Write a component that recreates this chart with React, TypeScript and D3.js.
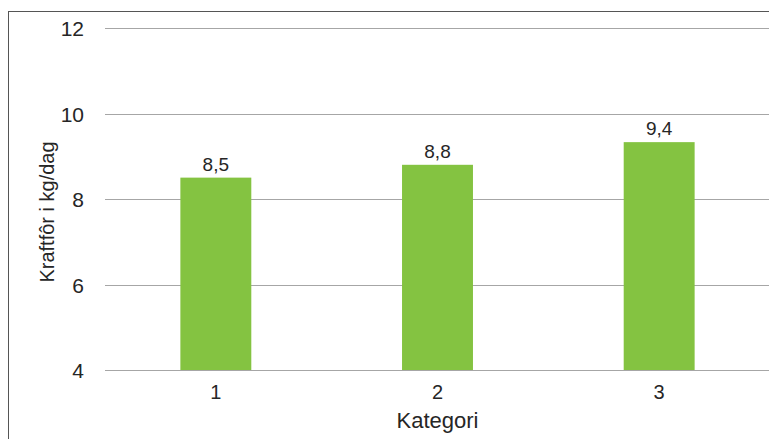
import React from "react";
import * as d3 from "d3";

const categories = ["1", "2", "3"];
const values = [8.5, 8.8, 9.33];
const valueLabels = ["8,5", "8,8", "9,4"];
const yTicks = [4, 6, 8, 10, 12];
const yTitle = "Kraftfôr i kg/dag";
const xTitle = "Kategori";

export default function App() {
  const left = 105;
  const right = 770;
  const top = 28;
  const bottom = 370;

  const x = d3.scaleBand<string>().domain(categories).range([left, right]).padding(0);
  const y = d3.scaleLinear().domain([4, 12]).range([bottom, top]);
  const barW = x.bandwidth() * 0.32;
  const font = "'Liberation Sans', Arial, Helvetica, sans-serif";
  const textFill = "#262626";

  return (
    <svg width={769} height={431} style={{ display: "block" }}>
      <g transform="translate(-8,-8)" fontFamily={font}>
        <rect x={8.5} y={11.5} width={900} height={600} fill="#fff" stroke="#555" strokeWidth={1} />
        {yTicks.map((t) => (
          <g key={t}>
            <line x1={left} x2={right} y1={Math.round(y(t)) + 0.5} y2={Math.round(y(t)) + 0.5} stroke="#a6a6a6" strokeWidth={1} />
            <text x={84} y={y(t) + 8} textAnchor="end" fontSize={21} fill={textFill}>
              {t}
            </text>
          </g>
        ))}
        {categories.map((c, i) => {
          const cx = (x(c) as number) + x.bandwidth() / 2;
          return (
            <g key={c}>
              <rect x={cx - barW / 2} y={y(values[i])} width={barW} height={y(4) - y(values[i])} fill="#84c341" />
              <text x={cx} y={y(values[i]) - 7} textAnchor="middle" fontSize={19} fill={textFill}>
                {valueLabels[i]}
              </text>
              <text x={cx} y={399} textAnchor="middle" fontSize={20} fill={textFill}>
                {c}
              </text>
            </g>
          );
        })}
        <text x={(left + right) / 2} y={428} textAnchor="middle" fontSize={22} fill={textFill}>
          {xTitle}
        </text>
        <text transform={`translate(54,212) rotate(-90)`} textAnchor="middle" fontSize={20} fill={textFill}>
          {yTitle}
        </text>
      </g>
    </svg>
  );
}
